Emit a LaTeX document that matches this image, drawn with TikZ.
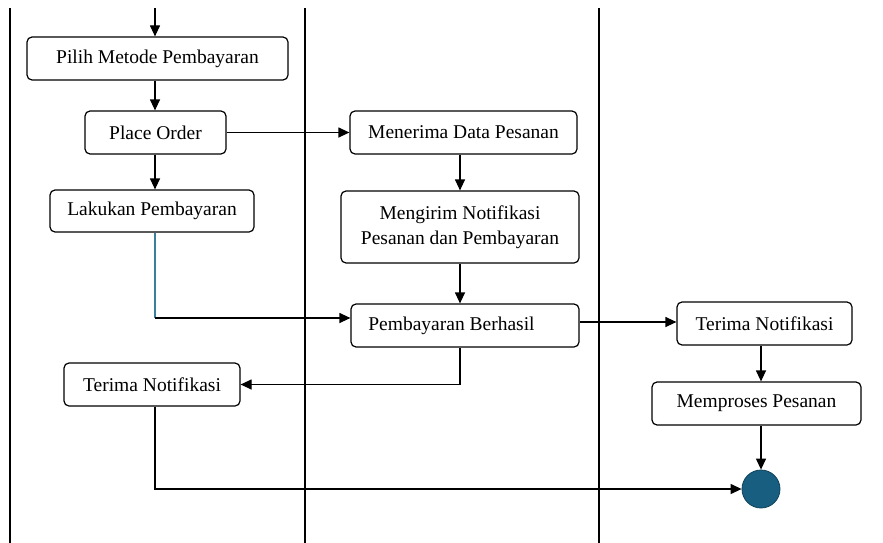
\documentclass[tikz,border=0pt]{standalone}
\usepackage{fontspec}
\setmainfont{LiberationSerif}[Extension=.ttf, UprightFont=*-Regular]
\newfontfamily\actfont{LiberationSerif}[Extension=.ttf, UprightFont=*-Regular]
\usetikzlibrary{arrows.meta}
\definecolor{finalfill}{HTML}{175E80}
\definecolor{flowteal}{HTML}{3A7F9C}
\begin{document}
\begin{tikzpicture}[x=1pt,y=-1pt,
  line width=1.2pt,
  actbox/.style={draw, rounded corners=5pt, align=center, inner sep=0pt,
    font=\actfont\fontsize{19.5}{25}\selectfont, fill=white},
  flow/.style={-{Triangle[length=11pt,width=10pt]}},
  lane/.style={line width=1.4pt}]
\useasboundingbox (0,0) rectangle (883,543);
% swimlane separators
\draw[lane] (10,8) -- (10,543);
\draw[lane] (305,8) -- (305,543);
\draw[lane] (599,8) -- (599,543);

% activities, first lane
\node[actbox, minimum width=261pt, minimum height=43pt] (pilih) at (157.5,58.5) {Pilih Metode Pembayaran};
\node[actbox, minimum width=141pt, minimum height=43pt] (place) at (155.5,132.5) {Place Order};
\node[actbox, minimum width=204pt, minimum height=42pt] (lakukan) at (152,211) {Lakukan Pembayaran};
\node[actbox, minimum width=176pt, minimum height=43pt] (terimaL) at (152,384.5) {Terima Notifikasi};

% activities, second lane
\node[actbox, minimum width=227pt, minimum height=43pt] (menerima) at (463.5,132.5) {Menerima Data Pesanan};
\node[actbox, minimum width=238pt, minimum height=72pt] (mengirim) at (460,227) {Mengirim Notifikasi\\Pesanan dan Pembayaran};
\node[actbox, minimum width=228pt, minimum height=43pt] (berhasil) at (465,325.5) {Pembayaran Berhasil\hspace*{27pt}};

% activities, third lane
\node[actbox, minimum width=175pt, minimum height=43pt] (terimaR) at (764.5,323.5) {Terima Notifikasi};
\node[actbox, minimum width=209pt, minimum height=43pt] (memproses) at (756.5,403.5) {Memproses Pesanan};

% final node
\node[circle, draw=finalfill!70!black, line width=0.8pt, fill=finalfill, minimum size=38pt, inner sep=0pt] (final) at (761,489) {};

% helper points for the routed connectors
\coordinate (start) at (155,8);
\coordinate (colA) at (155,0);
\coordinate (colB) at (460,0);
\coordinate (colC) at (761,0);
\coordinate (bendPay) at (155,318);
\coordinate (rowOk) at (0,322);

% connectors
\draw[flow] (start) -- (pilih.north -| start);
\draw[flow] (pilih.south -| colA) -- (place.north -| colA);
\draw[flow] (place.south -| colA) -- (lakukan.north -| colA);
\draw[flow] (place.east) -- (menerima.west);
\draw[flow] (menerima.south -| colB) -- (mengirim.north -| colB);
\draw[flow] (mengirim.south -| colB) -- (berhasil.north -| colB);
\draw[flowteal] (lakukan.south -| colA) -- (bendPay);
\draw[flow] (bendPay) -- (berhasil.west |- bendPay);
\draw[flow] (berhasil.south -| colB) |- (terimaL.east);
\draw[flow] (berhasil.east |- rowOk) -- (terimaR.west |- rowOk);
\draw[flow] (terimaR.south -| colC) -- (memproses.north -| colC);
\draw[flow] (memproses.south -| colC) -- (final.north);
\draw[flow] (terimaL.south -| colA) |- (final.west);
\end{tikzpicture}
\end{document}
